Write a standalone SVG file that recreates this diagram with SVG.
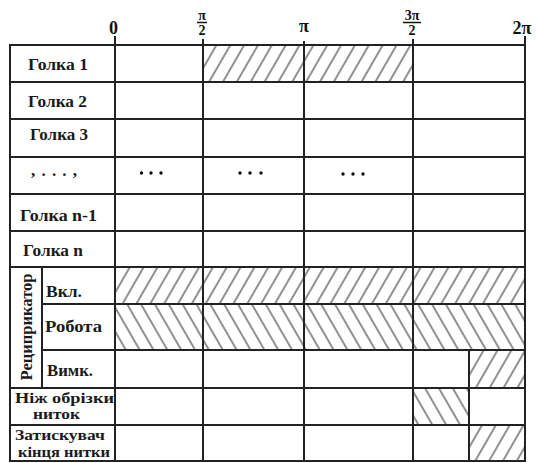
<svg xmlns="http://www.w3.org/2000/svg" width="537" height="463" viewBox="0 0 537 463">
<style>
.g{stroke:#222;stroke-width:2;fill:none;stroke-linecap:square}
.t{font-family:'Liberation Serif','Times New Roman',serif;font-size:17px;font-weight:bold;fill:#1a1a1a}
.s{font-size:15px}
.ax{font-family:'Liberation Serif','Times New Roman',serif;font-weight:bold;fill:#111;text-anchor:middle}
.d{fill:#111}
</style>
<defs>
<pattern id="hf" patternUnits="userSpaceOnUse" width="12" height="12" patternTransform="rotate(30)">
<line x1="6" y1="-1" x2="6" y2="13" stroke="#222" stroke-width="1"/>
</pattern>
<pattern id="hb" patternUnits="userSpaceOnUse" width="12" height="12" patternTransform="rotate(-30)">
<line x1="6" y1="-1" x2="6" y2="13" stroke="#222" stroke-width="1"/>
</pattern>
</defs>
<rect width="537" height="463" fill="#fff"/>

<g id="axis">
<text class="ax" x="113.5" y="34" font-size="18">0</text>
<text class="ax" x="202" y="20" font-size="14">π</text>
<line x1="197" y1="22.5" x2="207" y2="22.5" stroke="#111" stroke-width="1.5"/>
<text class="ax" x="202" y="34.5" font-size="14">2</text>
<text class="ax" x="304" y="32" font-size="18">π</text>
<text class="ax" x="412" y="20" font-size="14">3π</text>
<line x1="403" y1="22.5" x2="421" y2="22.5" stroke="#111" stroke-width="1.5"/>
<text class="ax" x="412" y="34.5" font-size="14">2</text>
<text class="ax" x="522" y="34" font-size="18">2π</text>
</g>

<g id="hatches">
<rect x="203" y="45" width="210" height="37" fill="url(#hf)"/>
<rect x="115" y="267" width="410" height="37" fill="url(#hf)"/>
<rect x="115" y="304" width="410" height="46" fill="url(#hb)"/>
<rect x="469" y="350" width="56" height="38" fill="url(#hf)"/>
<rect x="413" y="388" width="56" height="37" fill="url(#hb)"/>
<rect x="469" y="425" width="56" height="36" fill="url(#hf)"/>
</g>

<g id="grid" class="g">
<rect x="10" y="45" width="515" height="416"/>
<line x1="115" y1="37" x2="115" y2="461"/>
<line x1="203" y1="40" x2="203" y2="461"/>
<line x1="304" y1="42" x2="304" y2="461"/>
<line x1="413" y1="40" x2="413" y2="461"/>
<line x1="525" y1="37" x2="525" y2="45"/>
<line x1="469" y1="350" x2="469" y2="461"/>
<line x1="42" y1="267" x2="42" y2="388"/>
<line x1="10" y1="82" x2="525" y2="82"/>
<line x1="10" y1="119" x2="525" y2="119"/>
<line x1="10" y1="157" x2="525" y2="157"/>
<line x1="10" y1="194" x2="525" y2="194"/>
<line x1="10" y1="231" x2="525" y2="231"/>
<line x1="10" y1="267" x2="525" y2="267"/>
<line x1="42" y1="304" x2="525" y2="304"/>
<line x1="42" y1="350" x2="525" y2="350"/>
<line x1="10" y1="388" x2="525" y2="388"/>
<line x1="10" y1="425" x2="525" y2="425"/>
</g>

<g id="labels">
<text class="t" x="28" y="70" textLength="60" lengthAdjust="spacingAndGlyphs">Голка 1</text>
<text class="t" x="28" y="107" textLength="59" lengthAdjust="spacingAndGlyphs">Голка 2</text>
<text class="t" x="30" y="140" textLength="58" lengthAdjust="spacingAndGlyphs">Голка 3</text>
<text class="t" x="31" y="176" textLength="46" lengthAdjust="spacing">, . . . ,</text>
<text class="t" x="20" y="221" textLength="77" lengthAdjust="spacingAndGlyphs">Голка n-1</text>
<text class="t" x="23" y="256" textLength="60" lengthAdjust="spacingAndGlyphs">Голка n</text>
<text class="t" transform="translate(32,327) rotate(-90)" text-anchor="middle" textLength="107" lengthAdjust="spacingAndGlyphs">Рециприкатор</text>
<text class="t" x="46" y="297" textLength="36" lengthAdjust="spacingAndGlyphs">Вкл.</text>
<text class="t" x="45" y="332" textLength="57" lengthAdjust="spacingAndGlyphs">Робота</text>
<text class="t" x="47" y="376" textLength="46" lengthAdjust="spacingAndGlyphs">Вимк.</text>
<text class="t s" x="15" y="402.5" textLength="99" lengthAdjust="spacingAndGlyphs">Ніж обрізки</text>
<text class="t s" x="33" y="419" textLength="47" lengthAdjust="spacingAndGlyphs">ниток</text>
<text class="t s" x="15" y="440" textLength="90" lengthAdjust="spacingAndGlyphs">Затискувач</text>
<text class="t s" x="18" y="457" textLength="92" lengthAdjust="spacingAndGlyphs">кінця нитки</text>
</g>

<g id="dots" class="d">
<circle cx="141.5" cy="173" r="1.7"/><circle cx="151" cy="173" r="1.7"/><circle cx="161" cy="173" r="1.7"/>
<circle cx="240" cy="173" r="1.7"/><circle cx="250" cy="173" r="1.7"/><circle cx="261" cy="173" r="1.7"/>
<circle cx="343" cy="174" r="1.7"/><circle cx="353" cy="174" r="1.7"/><circle cx="363" cy="174" r="1.7"/>
</g>
</svg>
